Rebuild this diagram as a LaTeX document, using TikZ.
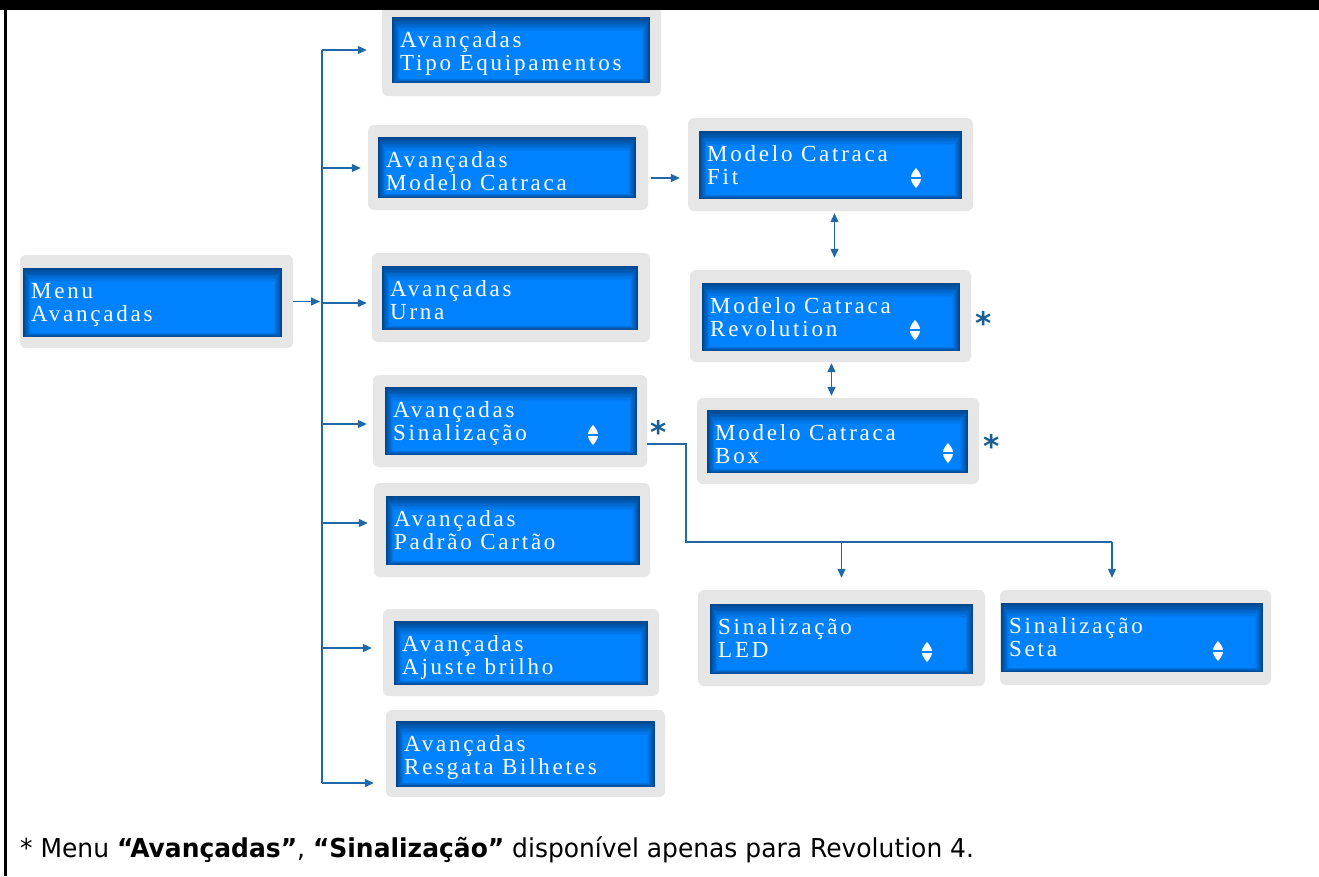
\documentclass[tikz,border=0pt]{standalone}
\usepackage{fontspec}
\usetikzlibrary{fit,arrows.meta}
\newfontfamily\lcdfont[LetterSpace=12]{Liberation Serif}
\newfontfamily\notefont[FakeStretch=0.96]{DejaVu Sans}
\newfontfamily\starfont{DejaVu Sans}
\definecolor{framegray}{HTML}{E6E6E6}
\definecolor{lcdblue}{HTML}{0082FF}
\definecolor{lcddark}{HTML}{00468C}
\definecolor{linkblue}{HTML}{2168A8}
\definecolor{starblue}{HTML}{1A5E96}

\tikzset{
  lcdframe/.style={fill=framegray, rounded corners=6pt, inner sep=0pt},
  lcdscreen/.style={fill=lcddark, inner sep=0pt},
  lcdtext/.style={text=white, anchor=base west, inner sep=0pt,
    font=\lcdfont\fontsize{23}{23}\selectfont},
  conn/.style={draw=linkblue, line width=1.2pt},
  arr/.style={conn, -{Triangle[length=9pt,width=8pt]}},
  dblarr/.style={conn, {Triangle[length=9pt,width=8pt]}-{Triangle[length=9pt,width=8pt]}},
  star/.style={anchor=north, inner sep=0pt, text=starblue,
    font=\starfont\bfseries\fontsize{31}{31}\selectfont},
}

% split "x1,y1,x2,y2"
\def\lcdparse#1,#2,#3,#4\relax{\def\qa{#1}\def\qb{#2}\def\qc{#3}\def\qd{#4}}

% LCD panel: name, frame corners, screen corners, first line, second line
\newcommand\lcdbox[5]{%
  \lcdparse#2\relax
  \node[lcdframe, fit={(\qa,\qb)(\qc,\qd)}] (#1) {};
  \lcdparse#3\relax
  \node[lcdscreen, fit={(\qa,\qb)(\qc,\qd)}] (#1-s) {};
  \foreach \i in {1,...,10}{%
    \pgfmathsetmacro\mix{100*\i/10}%
    \fill[lcdblue!\mix!lcddark] (\qa+\i*0.8,\qb+\i*1.4) rectangle (\qc-\i*0.8,\qd-\i*0.45);
  }
  \node[lcdtext] at (\qa+8,\qb+30) {#4};
  \node[lcdtext] at (\qa+8,\qb+53) {#5};
}

% up/down scroll indicator
\newcommand\updown[2]{%
  \fill[white] (#1-5,#2-1.2) .. controls (#1-5,#2-4) and (#1-1,#2-9) .. (#1,#2-10)
     .. controls (#1+1,#2-9) and (#1+5,#2-4) .. (#1+5,#2-1.2) -- cycle;
  \fill[white] (#1-5,#2+1.2) .. controls (#1-5,#2+4) and (#1-1,#2+9) .. (#1,#2+10)
     .. controls (#1+1,#2+9) and (#1+5,#2+4) .. (#1+5,#2+1.2) -- cycle;
}

\begin{document}
\begin{tikzpicture}[x=1pt,y=-1pt]
\useasboundingbox (0,0) rectangle (1319,876);
\fill[white] (0,0) rectangle (1319,876);

% panels
\lcdbox{tipo}{382,5,661,96}{392,17,650,83}{Avançadas}{Tipo Equipamentos}
\lcdbox{mc}{368,125,648,210}{378,137,636,198}{Avançadas}{Modelo Catraca}
\lcdbox{menu}{20,255,293,348}{23,268,282,337}{Menu}{Avançadas}
\lcdbox{urna}{372,253,650,342}{382,266,638,330}{Avançadas}{Urna}
\lcdbox{sin}{373,375,647,467}{385,387,637,455}{Avançadas}{Sinalização}
\lcdbox{pad}{374,483,650,577}{386,496,640,565}{Avançadas}{Padrão Cartão}
\lcdbox{aju}{383,609,659,696}{394,621,648,685}{Avançadas}{Ajuste brilho}
\lcdbox{res}{386,710,665,797}{396,721,655,787}{Avançadas}{Resgata Bilhetes}
\lcdbox{fit}{688,118,973,211}{699,131,962,199}{Modelo Catraca}{Fit}
\lcdbox{rev}{690,270,971,362}{702,283,960,351}{Modelo Catraca}{Revolution}
\lcdbox{box}{697,398,979,484}{707,410,968,473}{Modelo Catraca}{Box}
\lcdbox{led}{698,590,985,686}{710,604,973,674}{Sinalização}{LED}
\lcdbox{seta}{1000,590,1271,685}{1001,603,1263,672}{Sinalização}{Seta}

\updown{916}{178}
\updown{915}{330}
\updown{948}{453}
\updown{593}{435}
\updown{927}{652}
\updown{1218}{651}

% trunk with its branches
\coordinate (t1) at (322,50);
\coordinate (t2) at (322,168);
\coordinate (t3) at (322,303);
\coordinate (t4) at (322,424);
\coordinate (t5) at (322,523);
\coordinate (t6) at (322,648);
\coordinate (t7) at (322,783);
\draw[conn] (t1) -- (t7);
\draw[arr, shorten >=2pt] (menu.east) -- (menu.east -| t1);
\draw[arr, shorten >=15pt] (t1) -- (t1 -| tipo.west);
\draw[arr, shorten >=7pt] (t2) -- (t2 -| mc.west);
\draw[arr, shorten >=5pt] (t3) -- (t3 -| urna.west);
\draw[arr, shorten >=6pt] (t4) -- (t4 -| sin.west);
\draw[arr, shorten >=6pt] (t5) -- (t5 -| pad.west);
\draw[arr, shorten >=11pt] (t6) -- (t6 -| aju.west);
\draw[arr, shorten >=12pt] (t7) -- (t7 -| res.west);

% model submenu
\coordinate (k1) at (651,178);
\draw[arr, shorten >=8pt] (k1) -- (k1 -| fit.west);
\draw[dblarr, shorten <=2pt, shorten >=12pt] ([xshift=4pt]fit.south) -- ([xshift=4pt]fit.south |- rev.north);
\draw[dblarr, shorten <=1pt, shorten >=2pt] ([xshift=1pt]rev.south) -- ([xshift=1pt]rev.south |- box.north);

% signalling submenu
\coordinate (j0) at (647,444);
\coordinate (j1) at (686,444);
\coordinate (j2) at (686,542);
\coordinate (j3) at (1112,542);
\draw[conn] (j0) -- (j1) -- (j2) -- (j3);
\draw[arr, shorten >=12pt] (j2 -| led.north) -- (led.north);
\draw[arr, shorten >=12pt] (j3) -- (j3 |- seta.north);

% marks
\node[star] (s1) at (659,420) {*};
\node[star] (s2) at (984,311) {*};
\node[star] (s3) at (992,434) {*};

% note
\node[anchor=base west, inner sep=0pt, font=\notefont\fontsize{26}{26}\selectfont] (note) at (20,857)
  {* Menu \textbf{“Avançadas”}, \textbf{“Sinalização”} disponível apenas para Revolution 4.};

% page rules
\fill[black] (0,0) rectangle (1319,10);
\fill[black] (4,0) rectangle (7,876);
\end{tikzpicture}
\end{document}
